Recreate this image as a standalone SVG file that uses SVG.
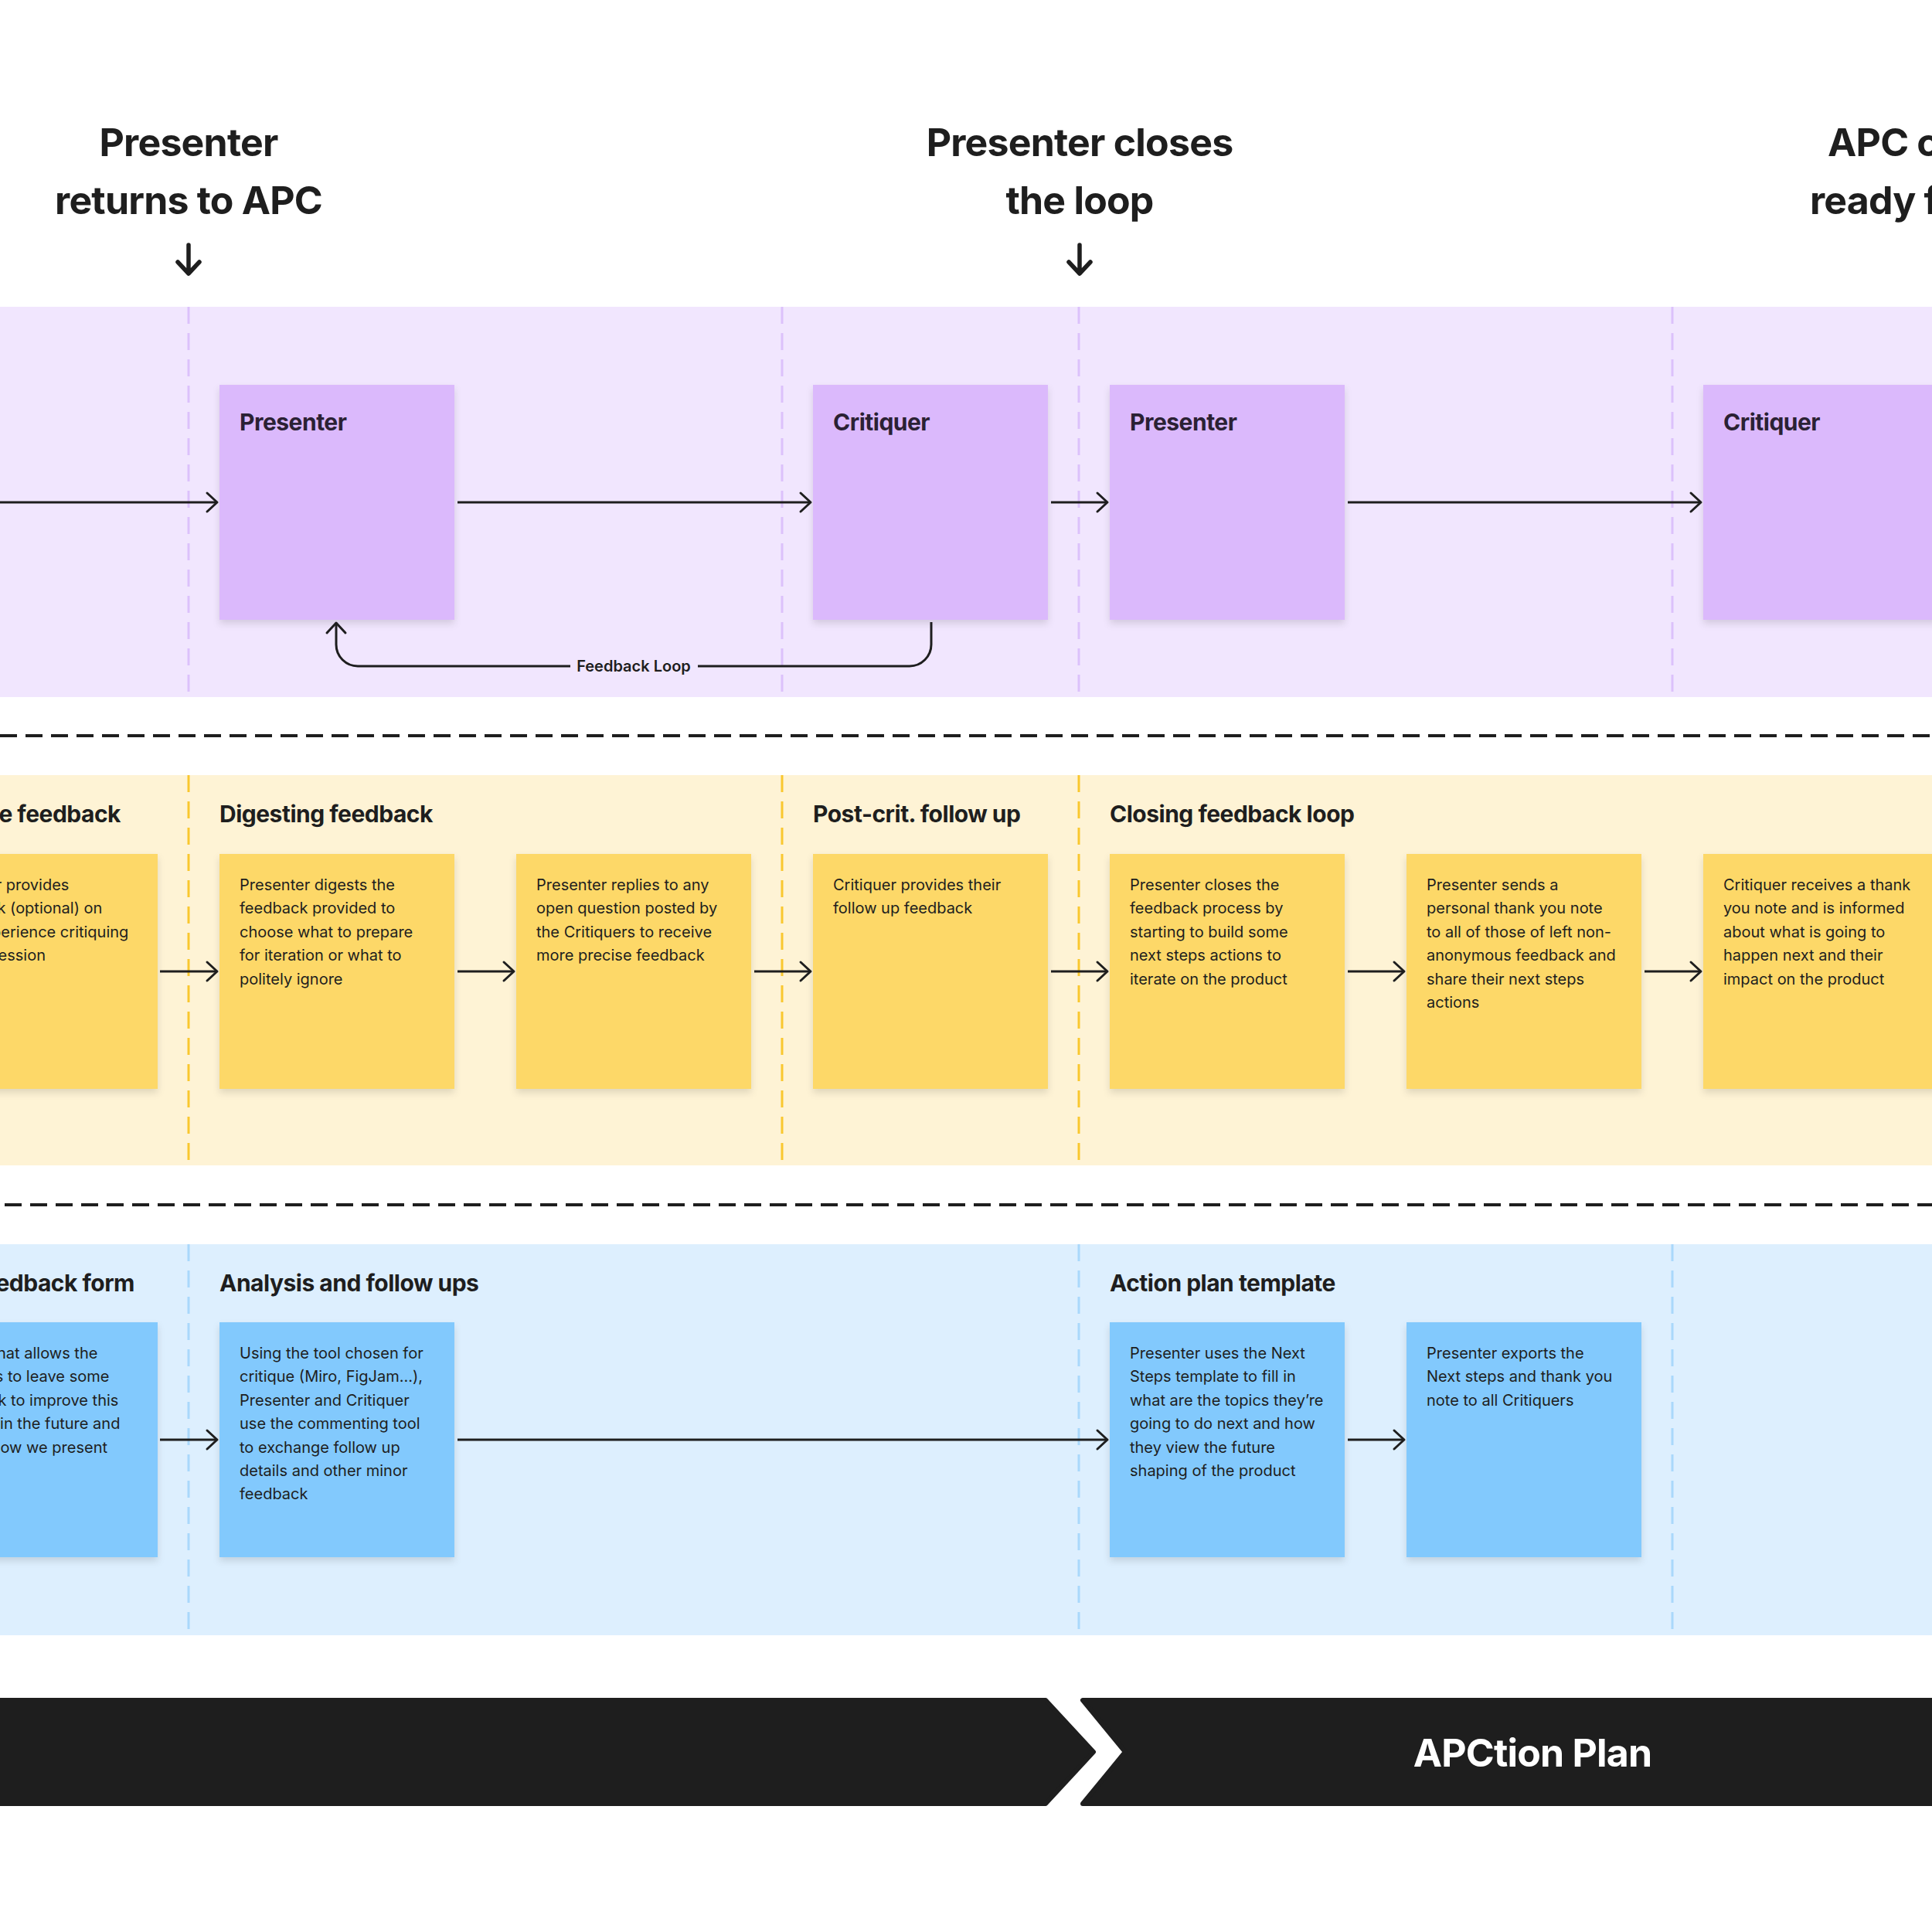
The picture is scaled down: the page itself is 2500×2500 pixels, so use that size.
<svg xmlns="http://www.w3.org/2000/svg" width="2500" height="2500" viewBox="0 0 2500 2500">
<style>
  text { font-family: Inter, "Liberation Sans", "DejaVu Sans", sans-serif; fill: #1E1E1E; }
  .title { font-size: 50px; font-weight: 700; letter-spacing: -0.8px; }
  .head { font-size: 30px; font-weight: 700; letter-spacing: -0.5px; }
  .stitle { font-size: 30px; font-weight: 700; letter-spacing: -0.5px; fill: #2B2134; }
  .body { font-size: 20px; font-weight: 400; }
  .lbl { font-size: 20px; font-weight: 600; }
  .bar { font-size: 50px; font-weight: 700; letter-spacing: -0.8px; fill: #FFFFFF; }
  .conn { fill: none; stroke: #1E1E1E; stroke-width: 3; }
  .sep { fill: none; stroke: #1E1E1E; stroke-width: 4; stroke-dasharray: 22 11; }
  .vdash { fill: none; stroke-width: 3; stroke-dasharray: 22 12; }
  .purple { fill: #DBB9FC; }
  .yellow { fill: #FDD867; }
  .blue { fill: #82C9FD; }
  .down { fill: none; stroke: #1E1E1E; stroke-width: 5.5; stroke-linecap: round; stroke-linejoin: round; }
</style>
<defs>
  <marker id="ah" markerUnits="userSpaceOnUse" viewBox="-16 -15 20 30" markerWidth="20" markerHeight="30" refX="0" refY="0" orient="auto" overflow="visible">
    <path d="M-13,-12 L0,0 L-13,12" fill="none" stroke="#1E1E1E" stroke-width="3" stroke-linecap="round" stroke-linejoin="round"/>
  </marker>
  <filter id="sh" x="-10%" y="-10%" width="120%" height="125%">
    <feDropShadow dx="0" dy="5" stdDeviation="5" flood-color="#000000" flood-opacity="0.12"/>
  </filter>
</defs>

<rect x="0" y="0" width="2500" height="2500" fill="#FFFFFF"/>

<!-- Bands -->
<g id="bands">
  <rect x="0" y="397" width="2500" height="505" fill="#F1E6FE"/>
  <rect x="0" y="1003" width="2500" height="505" fill="#FEF3D5"/>
  <rect x="0" y="1610" width="2500" height="506" fill="#DDEFFE"/>
  <path class="vdash" stroke="#DCC1FB" d="M244,397 V902 M1012,397 V902 M1396,397 V902 M2164,397 V902"/>
  <path class="vdash" stroke="#F9C72F" d="M244,1003 V1508 M1012,1003 V1508 M1396,1003 V1508"/>
  <path class="vdash" stroke="#A9D8FB" d="M244,1610 V2116 M1396,1610 V2116 M2164,1610 V2116"/>
  <path class="sep" d="M0,952 H2500"/>
  <path class="sep" d="M6,1559 H2500"/>
</g>

<!-- Milestone titles -->
<g id="milestone-1">
  <text class="title" x="244" y="202" text-anchor="middle">Presenter</text>
  <text class="title" x="244" y="277" text-anchor="middle">returns to APC</text>
  <path class="down" d="M244,317 V353 M230,339 L244,354 L258,339"/>
</g>
<g id="milestone-2">
  <text class="title" x="1397" y="202" text-anchor="middle">Presenter closes</text>
  <text class="title" x="1397" y="277" text-anchor="middle">the loop</text>
  <path class="down" d="M1397,317 V353 M1383,339 L1397,354 L1411,339"/>
</g>
<g id="milestone-3">
  <text class="title" x="2365" y="202">APC c</text>
  <text class="title" x="2342" y="277">ready f</text>
</g>

<!-- Purple row -->
<g id="p-presenter-1">
  <rect class="purple" x="284" y="498" width="304" height="304" filter="url(#sh)"/>
  <text class="stitle" x="310" y="557">Presenter</text>
</g>
<g id="p-critiquer-1">
  <rect class="purple" x="1052" y="498" width="304" height="304" filter="url(#sh)"/>
  <text class="stitle" x="1078" y="557">Critiquer</text>
</g>
<g id="p-presenter-2">
  <rect class="purple" x="1436" y="498" width="304" height="304" filter="url(#sh)"/>
  <text class="stitle" x="1462" y="557">Presenter</text>
</g>
<g id="p-critiquer-2">
  <rect class="purple" x="2204" y="498" width="304" height="304" filter="url(#sh)"/>
  <text class="stitle" x="2230" y="557">Critiquer</text>
</g>

<!-- Yellow row headings -->
<g id="y-headings">
  <text class="head" x="156" y="1064" text-anchor="end">e feedback</text>
  <text class="head" x="284" y="1064">Digesting feedback</text>
  <text class="head" x="1052" y="1064">Post-crit. follow up</text>
  <text class="head" x="1436" y="1064">Closing feedback loop</text>
</g>

<g id="y-sticky-0">
  <rect class="yellow" x="-100" y="1105" width="304" height="304" filter="url(#sh)"/>
  <text class="body" text-anchor="end">
    <tspan x="95" y="1152">r provides</tspan>
    <tspan x="138" y="1182.4">ck (optional) on</tspan>
    <tspan x="172" y="1212.8">perience critiquing</tspan>
    <tspan x="59" y="1243.2">ession</tspan>
  </text>
</g>
<g id="y-sticky-1">
  <rect class="yellow" x="284" y="1105" width="304" height="304" filter="url(#sh)"/>
  <text class="body">
    <tspan x="310" y="1152">Presenter digests the</tspan>
    <tspan x="310" y="1182.4">feedback provided to</tspan>
    <tspan x="310" y="1212.8">choose what to prepare</tspan>
    <tspan x="310" y="1243.2">for iteration or what to</tspan>
    <tspan x="310" y="1273.6">politely ignore</tspan>
  </text>
</g>
<g id="y-sticky-2">
  <rect class="yellow" x="668" y="1105" width="304" height="304" filter="url(#sh)"/>
  <text class="body">
    <tspan x="694" y="1152">Presenter replies to any</tspan>
    <tspan x="694" y="1182.4">open question posted by</tspan>
    <tspan x="694" y="1212.8">the Critiquers to receive</tspan>
    <tspan x="694" y="1243.2">more precise feedback</tspan>
  </text>
</g>
<g id="y-sticky-3">
  <rect class="yellow" x="1052" y="1105" width="304" height="304" filter="url(#sh)"/>
  <text class="body">
    <tspan x="1078" y="1152">Critiquer provides their</tspan>
    <tspan x="1078" y="1182.4">follow up feedback</tspan>
  </text>
</g>
<g id="y-sticky-4">
  <rect class="yellow" x="1436" y="1105" width="304" height="304" filter="url(#sh)"/>
  <text class="body">
    <tspan x="1462" y="1152">Presenter closes the</tspan>
    <tspan x="1462" y="1182.4">feedback process by</tspan>
    <tspan x="1462" y="1212.8">starting to build some</tspan>
    <tspan x="1462" y="1243.2">next steps actions to</tspan>
    <tspan x="1462" y="1273.6">iterate on the product</tspan>
  </text>
</g>
<g id="y-sticky-5">
  <rect class="yellow" x="1820" y="1105" width="304" height="304" filter="url(#sh)"/>
  <text class="body">
    <tspan x="1846" y="1152">Presenter sends a</tspan>
    <tspan x="1846" y="1182.4">personal thank you note</tspan>
    <tspan x="1846" y="1212.8">to all of those of left non-</tspan>
    <tspan x="1846" y="1243.2">anonymous feedback and</tspan>
    <tspan x="1846" y="1273.6">share their next steps</tspan>
    <tspan x="1846" y="1304">actions</tspan>
  </text>
</g>
<g id="y-sticky-6">
  <rect class="yellow" x="2204" y="1105" width="304" height="304" filter="url(#sh)"/>
  <text class="body">
    <tspan x="2230" y="1152">Critiquer receives a thank</tspan>
    <tspan x="2230" y="1182.4">you note and is informed</tspan>
    <tspan x="2230" y="1212.8">about what is going to</tspan>
    <tspan x="2230" y="1243.2">happen next and their</tspan>
    <tspan x="2230" y="1273.6">impact on the product</tspan>
  </text>
</g>

<!-- Blue row -->
<g id="b-headings">
  <text class="head" x="174" y="1671" text-anchor="end">edback form</text>
  <text class="head" x="284" y="1671">Analysis and follow ups</text>
  <text class="head" x="1436" y="1671">Action plan template</text>
</g>
<g id="b-sticky-0">
  <rect class="blue" x="-100" y="1711" width="304" height="304" filter="url(#sh)"/>
  <text class="body" text-anchor="end">
    <tspan x="132" y="1758">hat allows the</tspan>
    <tspan x="147" y="1788.4">s to leave some</tspan>
    <tspan x="159" y="1818.8">ck to improve this</tspan>
    <tspan x="161" y="1849.2">in the future and</tspan>
    <tspan x="139" y="1879.6">ow we present</tspan>
  </text>
</g>
<g id="b-sticky-1">
  <rect class="blue" x="284" y="1711" width="304" height="304" filter="url(#sh)"/>
  <text class="body">
    <tspan x="310" y="1758">Using the tool chosen for</tspan>
    <tspan x="310" y="1788.4">critique (Miro, FigJam...),</tspan>
    <tspan x="310" y="1818.8">Presenter and Critiquer</tspan>
    <tspan x="310" y="1849.2">use the commenting tool</tspan>
    <tspan x="310" y="1879.6">to exchange follow up</tspan>
    <tspan x="310" y="1910">details and other minor</tspan>
    <tspan x="310" y="1940.4">feedback</tspan>
  </text>
</g>
<g id="b-sticky-2">
  <rect class="blue" x="1436" y="1711" width="304" height="304" filter="url(#sh)"/>
  <text class="body">
    <tspan x="1462" y="1758">Presenter uses the Next</tspan>
    <tspan x="1462" y="1788.4">Steps template to fill in</tspan>
    <tspan x="1462" y="1818.8">what are the topics they’re</tspan>
    <tspan x="1462" y="1849.2">going to do next and how</tspan>
    <tspan x="1462" y="1879.6">they view the future</tspan>
    <tspan x="1462" y="1910">shaping of the product</tspan>
  </text>
</g>
<g id="b-sticky-3">
  <rect class="blue" x="1820" y="1711" width="304" height="304" filter="url(#sh)"/>
  <text class="body">
    <tspan x="1846" y="1758">Presenter exports the</tspan>
    <tspan x="1846" y="1788.4">Next steps and thank you</tspan>
    <tspan x="1846" y="1818.8">note to all Critiquers</tspan>
  </text>
</g>

<!-- Connectors -->
<g id="connectors">
  <path class="conn" marker-end="url(#ah)" d="M0,650 H281"/>
  <path class="conn" marker-end="url(#ah)" d="M592,650 H1049"/>
  <path class="conn" marker-end="url(#ah)" d="M1360,650 H1433"/>
  <path class="conn" marker-end="url(#ah)" d="M1744,650 H2201"/>

  <path class="conn" marker-end="url(#ah)" d="M1205,805 V834 A28,28 0 0 1 1177,862 H463 A28,28 0 0 1 435,834 V806"/>
  <rect x="738" y="846" width="165" height="32" fill="#F1E6FE"/>
  <text class="lbl" x="820" y="869" text-anchor="middle">Feedback Loop</text>

  <path class="conn" marker-end="url(#ah)" d="M207,1257 H281"/>
  <path class="conn" marker-end="url(#ah)" d="M592,1257 H665"/>
  <path class="conn" marker-end="url(#ah)" d="M976,1257 H1049"/>
  <path class="conn" marker-end="url(#ah)" d="M1360,1257 H1433"/>
  <path class="conn" marker-end="url(#ah)" d="M1744,1257 H1817"/>
  <path class="conn" marker-end="url(#ah)" d="M2128,1257 H2201"/>

  <path class="conn" marker-end="url(#ah)" d="M207,1863 H281"/>
  <path class="conn" marker-end="url(#ah)" d="M592,1863 H1433"/>
  <path class="conn" marker-end="url(#ah)" d="M1744,1863 H1817"/>
</g>

<!-- Phase bar -->
<g id="phase-bar">
  <path d="M-10,2200 L1353,2200 L1415,2267 L1353,2334 L-10,2334 Z" fill="#1E1E1E" stroke="#1E1E1E" stroke-width="6" stroke-linejoin="round"/>
  <path d="M1401,2200 L2510,2200 L2510,2334 L1401,2334 L1456,2267 Z" fill="#1E1E1E" stroke="#1E1E1E" stroke-width="6" stroke-linejoin="round"/>
  <text class="bar" x="1983" y="2286" text-anchor="middle">APCtion Plan</text>
</g>
</svg>
